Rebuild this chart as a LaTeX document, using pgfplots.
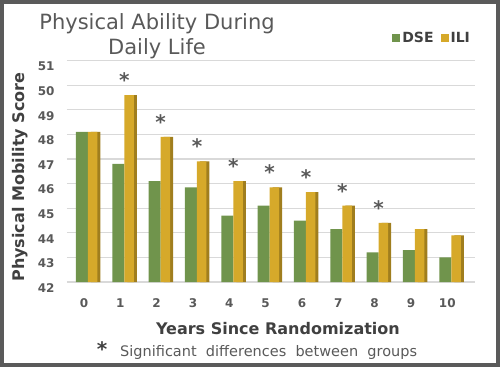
\documentclass[border=0pt]{standalone}
\usepackage{pgfplots}
\pgfplotsset{compat=1.18}
\usepackage{fontspec}
\setmainfont{DejaVu Sans}
\definecolor{dsegreen}{RGB}{112,148,76}
\definecolor{iligold}{RGB}{214,169,42}
\definecolor{ilidark}{RGB}{160,126,30}
\definecolor{gridgray}{RGB}{217,217,217}
\definecolor{txtgray}{RGB}{89,89,89}
\definecolor{lblgray}{RGB}{64,64,64}
\definecolor{framegray}{RGB}{90,90,90}
\begin{document}
\begin{tikzpicture}
\useasboundingbox (-67pt,-85pt) rectangle (433pt,282pt);
\begin{axis}[
  scale only axis,
  width=408pt, height=221.4pt,
  xmin=-0.578, xmax=10.652,
  ymin=42, ymax=51,
  xtick={0,...,10},
  ytick={42,...,51},
  axis line style={draw=none},
  major tick length=0pt,
  ymajorgrids,
  major grid style={draw=gridgray, line width=1.3pt},
  /pgf/number format/assume math mode=true,
  ticklabel style={font=\fontsize{12}{14}\selectfont\bfseries, text=txtgray},
  xticklabel style={anchor=north, yshift=-13pt, xshift=-4pt},
  yticklabel style={anchor=east, xshift=-9pt, yshift=-6pt},
  xlabel={Years Since Randomization},
  ylabel={Physical Mobility Score},
  xlabel style={at={(axis description cs:0.517,-0.235)}, anchor=base, font=\fontsize{16}{19}\selectfont\bfseries, text=lblgray},
  ylabel style={at={(axis description cs:-0.115,0.474)}, anchor=center, font=\fontsize{16}{19}\selectfont\bfseries, text=lblgray},
  legend columns=2,
  legend style={at={(rel axis cs:0.993,1.102)}, anchor=east, draw=none, fill=none, inner sep=0pt,
    font=\fontsize{14}{16}\selectfont\bfseries, text=lblgray,
    /tikz/every even column/.append style={column sep=5pt}},
]
\addplot[ybar, bar width=12pt, bar shift=-6pt, fill=dsegreen, draw=none,
  legend image code/.code={\fill[dsegreen] (0pt,-4pt) rectangle (8pt,4pt);}]
  coordinates {(0,48.1) (1,46.8) (2,46.1) (3,45.85) (4,44.7) (5,45.1) (6,44.5) (7,44.15) (8,43.2) (9,43.3) (10,43.0)};
\addlegendentry{DSE}
\addplot[ybar, bar width=9.5pt, bar shift=7.75pt, fill=ilidark, draw=none, forget plot]
  coordinates {(0,48.1) (1,49.6) (2,47.9) (3,46.9) (4,46.1) (5,45.85) (6,45.65) (7,45.1) (8,44.4) (9,44.15) (10,43.9)};
\addplot[ybar, bar width=9.5pt, bar shift=4.75pt, fill=iligold, draw=none,
  legend image code/.code={\fill[iligold] (0pt,-4pt) rectangle (8pt,4pt);}]
  coordinates {(0,48.1) (1,49.6) (2,47.9) (3,46.9) (4,46.1) (5,45.85) (6,45.65) (7,45.1) (8,44.4) (9,44.15) (10,43.9)};
\addlegendentry{ILI}
\addplot[ybar, bar width=9.5pt, bar shift=6pt, draw=none, fill=none, forget plot,
  nodes near coords={*},
  every node near coord/.append style={anchor=center, yshift=15pt, font=\fontsize{20}{22}\selectfont\bfseries, text=txtgray}]
  coordinates {(1,49.6) (2,47.9) (3,46.9) (4,46.1) (5,45.85) (6,45.65) (7,45.1) (8,44.4)};
\end{axis}
% title
\node[anchor=base, font=\fontsize{21}{25}\selectfont, text=txtgray] at (90pt,252pt) {Physical Ability During};
\node[anchor=base, font=\fontsize{21}{25}\selectfont, text=txtgray] at (90pt,227pt) {Daily Life};
% footnote
\node[anchor=center, font=\fontsize{20}{22}\selectfont\bfseries, text=lblgray] at (35pt,-67pt) {*};
\node[anchor=base west, inner sep=0pt, font=\fontsize{14.5}{17}\selectfont, text=txtgray] at (53pt,-74pt) {Significant \ differences \ between \ groups};
% frame
\draw[framegray, line width=4pt] (-65pt,-83pt) rectangle (431pt,280pt);
\end{tikzpicture}
\end{document}
